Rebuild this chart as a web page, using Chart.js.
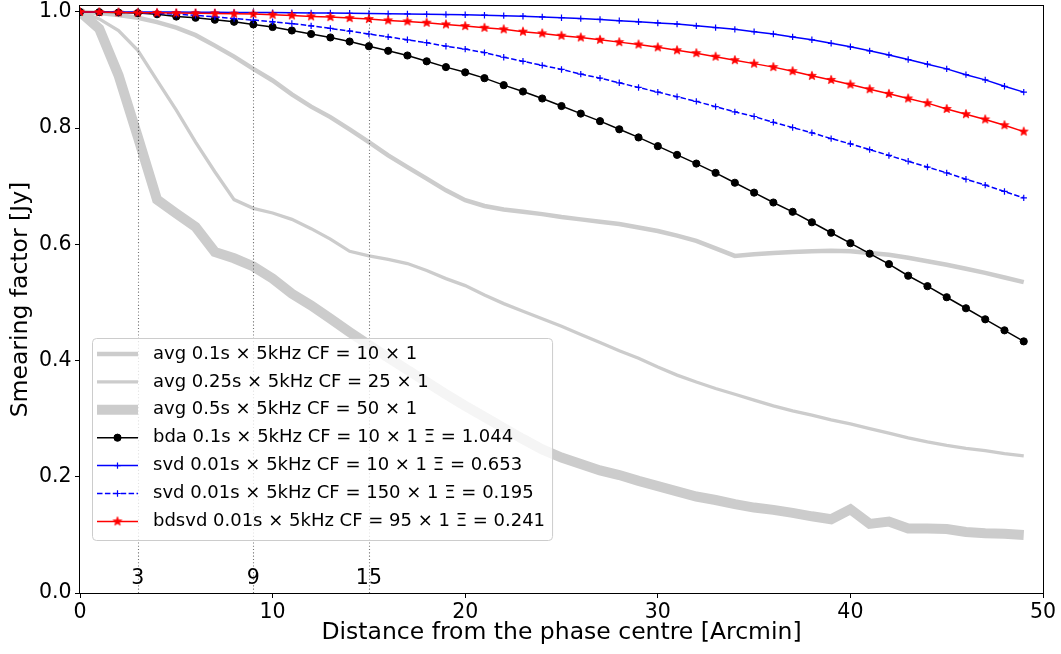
<!DOCTYPE html>
<html>
<head>
<meta charset="utf-8">
<script src="https://cdn.jsdelivr.net/npm/chart.js@4/dist/chart.umd.min.js"></script>
<style>
  html, body { margin: 0; padding: 0; background: #fff; }
  #wrap { width: 1061px; height: 654px; }
</style>
</head>
<body>
<div id="wrap"><canvas id="chart" width="1061" height="654"></canvas></div>
<script>
// distance from the phase centre (arcmin)
var distances = [0, 1, 2, 3, 4, 5, 6, 7, 8, 9, 10, 11, 12, 13, 14, 15, 16, 17, 18, 19,
  20, 21, 22, 23, 24, 25, 26, 27, 28, 29, 30, 31, 32, 33, 34, 35, 36, 37, 38, 39,
  40, 41, 42, 43, 44, 45, 46, 47, 48, 49];

var avg01 = [1.0, 0.998, 0.9945, 0.990, 0.9825, 0.973, 0.960, 0.942, 0.923, 0.902,
  0.882, 0.858, 0.837, 0.819, 0.798, 0.776, 0.753, 0.733, 0.713, 0.693,
  0.676, 0.666, 0.660, 0.656, 0.652, 0.647, 0.643, 0.639, 0.635, 0.629,
  0.623, 0.615, 0.606, 0.593, 0.580, 0.583, 0.585, 0.587, 0.588, 0.589,
  0.588, 0.585, 0.582, 0.577, 0.571, 0.565, 0.558, 0.551, 0.543, 0.535];

var avg025 = [1.0, 0.988, 0.968, 0.934, 0.882, 0.831, 0.776, 0.725, 0.677, 0.662,
  0.654, 0.643, 0.627, 0.609, 0.588, 0.580, 0.574, 0.567, 0.555, 0.541,
  0.529, 0.513, 0.498, 0.485, 0.472, 0.459, 0.445, 0.431, 0.417, 0.404,
  0.389, 0.375, 0.363, 0.352, 0.342, 0.332, 0.322, 0.3135, 0.306, 0.298,
  0.291, 0.283, 0.275, 0.267, 0.260, 0.254, 0.249, 0.245, 0.240, 0.236];

var avg05 = [1.0, 0.971, 0.891, 0.785, 0.677, 0.653, 0.630, 0.587, 0.576, 0.562,
  0.541, 0.515, 0.495, 0.472, 0.449, 0.427, 0.405, 0.384, 0.363, 0.342,
  0.322, 0.303, 0.284, 0.265, 0.247, 0.233, 0.222, 0.211, 0.203, 0.193,
  0.184, 0.175, 0.166, 0.160, 0.153, 0.147, 0.143, 0.138, 0.132, 0.127,
  0.144, 0.119, 0.123, 0.111, 0.111, 0.110, 0.105, 0.103, 0.102, 0.100];

var bda = [1.0, 0.9995, 0.999, 0.998, 0.996, 0.992, 0.990, 0.9866, 0.983, 0.9785,
  0.974, 0.968, 0.962, 0.956, 0.949, 0.941, 0.933, 0.925, 0.915, 0.905,
  0.896, 0.886, 0.874, 0.863, 0.851, 0.838, 0.825, 0.812, 0.798, 0.784,
  0.769, 0.754, 0.739, 0.723, 0.706, 0.689, 0.672, 0.656, 0.638, 0.620,
  0.602, 0.584, 0.566, 0.546, 0.528, 0.509, 0.490, 0.471, 0.452, 0.433];

var svd10 = [1.0, 1.0, 1.0, 0.9999, 0.9998, 0.9997, 0.9996, 0.9994, 0.9992, 0.999,
  0.9988, 0.9986, 0.9983, 0.998, 0.9977, 0.9973, 0.9969, 0.9965, 0.996, 0.9955,
  0.995, 0.9943, 0.9936, 0.9926, 0.9914, 0.990, 0.9885, 0.987, 0.985, 0.983,
  0.981, 0.979, 0.976, 0.973, 0.970, 0.966, 0.962, 0.957, 0.952, 0.946,
  0.940, 0.933, 0.926, 0.918, 0.910, 0.902, 0.892, 0.883, 0.872, 0.862];

var svd150 = [1.0, 0.9997, 0.9993, 0.9986, 0.9975, 0.996, 0.994, 0.9915, 0.9885, 0.986,
  0.983, 0.980, 0.976, 0.9716, 0.967, 0.962, 0.957, 0.952, 0.947, 0.941,
  0.936, 0.930, 0.922, 0.915, 0.908, 0.901, 0.893, 0.886, 0.878, 0.870,
  0.862, 0.854, 0.846, 0.837, 0.828, 0.820, 0.810, 0.801, 0.792, 0.782,
  0.773, 0.763, 0.753, 0.743, 0.733, 0.723, 0.712, 0.702, 0.691, 0.680];

var bdsvd = [1.0, 0.9997, 0.9991, 0.9986, 0.9984, 0.998, 0.9978, 0.9974, 0.9968, 0.9963,
  0.9951, 0.994, 0.9923, 0.9911, 0.9894, 0.9877, 0.9854, 0.9837, 0.9814, 0.9785,
  0.9756, 0.9727, 0.970, 0.966, 0.963, 0.959, 0.956, 0.952, 0.948, 0.944,
  0.939, 0.934, 0.929, 0.923, 0.917, 0.911, 0.905, 0.898, 0.890, 0.883,
  0.875, 0.867, 0.859, 0.851, 0.843, 0.833, 0.824, 0.815, 0.805, 0.794];

var seriesLabels = [
  'avg 0.1s × 5kHz CF = 10 × 1',
  'avg 0.25s × 5kHz CF = 25 × 1',
  'avg 0.5s × 5kHz CF = 50 × 1',
  'bda 0.1s × 5kHz CF = 10 × 1 Ξ = 1.044',
  'svd 0.01s × 5kHz CF = 10 × 1 Ξ = 0.653',
  'svd 0.01s × 5kHz CF = 150 × 1 Ξ = 0.195',
  'bdsvd 0.01s × 5kHz CF = 95 × 1 Ξ = 0.241'
];

var markerLines = [3, 9, 15];
var xTickValues = [0, 10, 20, 30, 40, 50];
var yTickValues = [0, 0.2, 0.4, 0.6, 0.8, 1.0];

var FONT = '"DejaVu Sans", "Liberation Sans", sans-serif';

function pts(vals) {
  return distances.map(function (d, i) { return { x: d, y: vals[i] }; });
}

// filled five point star like matplotlib '*'
function makeStar(color, r) {
  var c = document.createElement('canvas');
  var s = Math.ceil(r * 2 + 2);
  c.width = s; c.height = s;
  var g = c.getContext('2d');
  g.beginPath();
  for (var k = 0; k < 10; k++) {
    var rr = (k % 2) ? r * 0.42 : r;
    var a = -Math.PI / 2 + k * Math.PI / 5;
    g.lineTo(s / 2 + rr * Math.cos(a), s / 2 + rr * Math.sin(a));
  }
  g.closePath();
  g.fillStyle = color; g.fill();
  g.strokeStyle = color; g.lineWidth = 0.8; g.stroke();
  return c;
}
var redStar = makeStar('#ff0000', 4.6);

var grey = '#cccccc';
var datasets = [
  { label: seriesLabels[0], data: pts(avg01), borderColor: grey, borderWidth: 4.5, pointRadius: 0 },
  { label: seriesLabels[1], data: pts(avg025), borderColor: grey, borderWidth: 3.3, pointRadius: 0 },
  { label: seriesLabels[2], data: pts(avg05), borderColor: grey, borderWidth: 10, pointRadius: 0 },
  { label: seriesLabels[3], data: pts(bda), borderColor: '#000', borderWidth: 1.5,
    pointStyle: 'circle', pointRadius: 3.6, pointBackgroundColor: '#000', pointBorderColor: '#000', pointBorderWidth: 1 },
  { label: seriesLabels[4], data: pts(svd10), borderColor: '#0000ff', borderWidth: 1.5,
    pointStyle: 'cross', pointRadius: 3.2, pointBorderColor: '#0000ff', pointBorderWidth: 1.2 },
  { label: seriesLabels[5], data: pts(svd150), borderColor: '#0000ff', borderWidth: 1.5, borderDash: [5.5, 2.4],
    pointStyle: 'cross', pointRadius: 3.2, pointBorderColor: '#0000ff', pointBorderWidth: 1.2 },
  { label: seriesLabels[6], data: pts(bdsvd), borderColor: '#ff0000', borderWidth: 1.5,
    pointStyle: redStar, pointRadius: 4.6, pointBorderColor: '#ff0000', pointBackgroundColor: '#ff0000' }
];
datasets.forEach(function (ds, i) {
  ds.order = datasets.length - i; // later series on top, as in the original
  ds.fill = false;
  ds.tension = 0;
  ds.pointHoverRadius = ds.pointRadius;
});

var overlay = {
  id: 'overlay',
  afterDatasetsDraw: function (chart) {
    var ctx = chart.ctx, area = chart.chartArea;
    var xs = chart.scales.x, ys = chart.scales.y;

    // dotted guide lines + their labels
    ctx.save();
    ctx.strokeStyle = 'rgba(0,0,0,0.55)';
    ctx.lineWidth = 1.1;
    ctx.setLineDash([1.1, 2.2]);
    markerLines.forEach(function (v) {
      var px = Math.round(xs.getPixelForValue(v)) + 0.5;
      ctx.beginPath();
      ctx.moveTo(px, area.bottom);
      ctx.lineTo(px, area.top);
      ctx.stroke();
    });
    ctx.setLineDash([]);
    ctx.fillStyle = '#000';
    ctx.font = '20.5px ' + FONT;
    ctx.textAlign = 'center';
    ctx.textBaseline = 'middle';
    markerLines.forEach(function (v) {
      ctx.fillText(String(v), xs.getPixelForValue(v), ys.getPixelForValue(0.024));
    });
    ctx.restore();

    // legend
    ctx.save();
    ctx.font = '18px ' + FONT;
    var maxW = 0;
    chart.data.datasets.forEach(function (ds) { maxW = Math.max(maxW, ctx.measureText(ds.label).width); });
    var left = area.left + 12, top = area.bottom - 255;
    var textX = left + 61;
    var w = textX - left + maxW + 7, h = 202;
    ctx.beginPath();
    if (ctx.roundRect) ctx.roundRect(left + 0.5, top + 0.5, w, h, 4);
    else ctx.rect(left + 0.5, top + 0.5, w, h);
    ctx.fillStyle = 'rgba(255,255,255,0.8)';
    ctx.fill();
    ctx.strokeStyle = '#cccccc';
    ctx.lineWidth = 1;
    ctx.stroke();

    chart.data.datasets.forEach(function (ds, i) {
      var cy = top + 16 + i * 27.9;
      var x0 = left + 5, x1 = left + 46;
      ctx.save();
      ctx.strokeStyle = ds.borderColor;
      ctx.lineWidth = ds.borderWidth;
      ctx.setLineDash(ds.borderDash || []);
      ctx.beginPath();
      ctx.moveTo(x0, cy);
      ctx.lineTo(x1, cy);
      ctx.stroke();
      ctx.setLineDash([]);
      if (ds.pointRadius > 0) {
        ctx.fillStyle = ds.pointBackgroundColor || ds.pointBorderColor;
        ctx.strokeStyle = ds.pointBorderColor;
        ctx.lineWidth = ds.pointBorderWidth || 1;
        Chart.helpers.drawPoint(ctx, { pointStyle: ds.pointStyle, radius: ds.pointRadius,
          borderWidth: ds.pointBorderWidth || 1, rotation: 0 }, (x0 + x1) / 2, cy);
      }
      ctx.restore();
      ctx.fillStyle = '#000';
      ctx.textAlign = 'left';
      ctx.textBaseline = 'middle';
      ctx.fillText(ds.label, textX, cy);
    });
    ctx.restore();

    // axes frame
    ctx.save();
    ctx.strokeStyle = '#000';
    ctx.lineWidth = 1;
    ctx.strokeRect(Math.round(area.left) - 0.5, Math.round(area.top) - 0.5,
      Math.round(area.right) - Math.round(area.left) + 1, Math.round(area.bottom) - Math.round(area.top) + 1);
    ctx.restore();
  }
};

function fitTo(size, isX) {
  return function (s) {
    if (isX) s.height = size; else s.width = size;
    s.paddingTop = 0; s.paddingBottom = 0; s.paddingLeft = 0; s.paddingRight = 0;
  };
}

new Chart(document.getElementById('chart'), {
  type: 'line',
  data: { datasets: datasets },
  options: {
    responsive: false,
    animation: false,
    devicePixelRatio: 1,
    layout: { padding: { left: 0, right: 18, top: 5.7, bottom: 0 } },
    plugins: { legend: { display: false }, tooltip: { enabled: false } },
    scales: {
      x: {
        type: 'linear', min: 0, max: 50,
        afterBuildTicks: function (s) { s.ticks = xTickValues.map(function (v) { return { value: v }; }); },
        afterFit: fitTo(61, true),
        ticks: { color: '#000', font: { family: FONT, size: 20.5 }, padding: 2, maxRotation: 0,
          callback: function (v) { return String(v); } },
        grid: { drawOnChartArea: false, drawTicks: true, tickLength: 5, color: '#000', tickWidth: 1 },
        border: { display: false },
        title: { display: true, text: 'Distance from the phase centre [Arcmin]', color: '#000',
          font: { family: FONT, size: 23.5 }, padding: { top: 0, bottom: 7 } }
      },
      y: {
        type: 'linear', min: 0, max: 1.01,
        afterBuildTicks: function (s) { s.ticks = yTickValues.map(function (v) { return { value: v }; }); },
        afterFit: fitTo(80, false),
        ticks: { color: '#000', font: { family: FONT, size: 20.5 }, padding: 3.5,
          callback: function (v) { return v.toFixed(1); } },
        grid: { drawOnChartArea: false, drawTicks: true, tickLength: 5, color: '#000', tickWidth: 1 },
        border: { display: false },
        title: { display: true, text: 'Smearing factor [Jy]', color: '#000',
          font: { family: FONT, size: 23.5 }, padding: { top: 6.4, bottom: 0 } }
      }
    }
  },
  plugins: [overlay]
});
</script>
</body>
</html>
